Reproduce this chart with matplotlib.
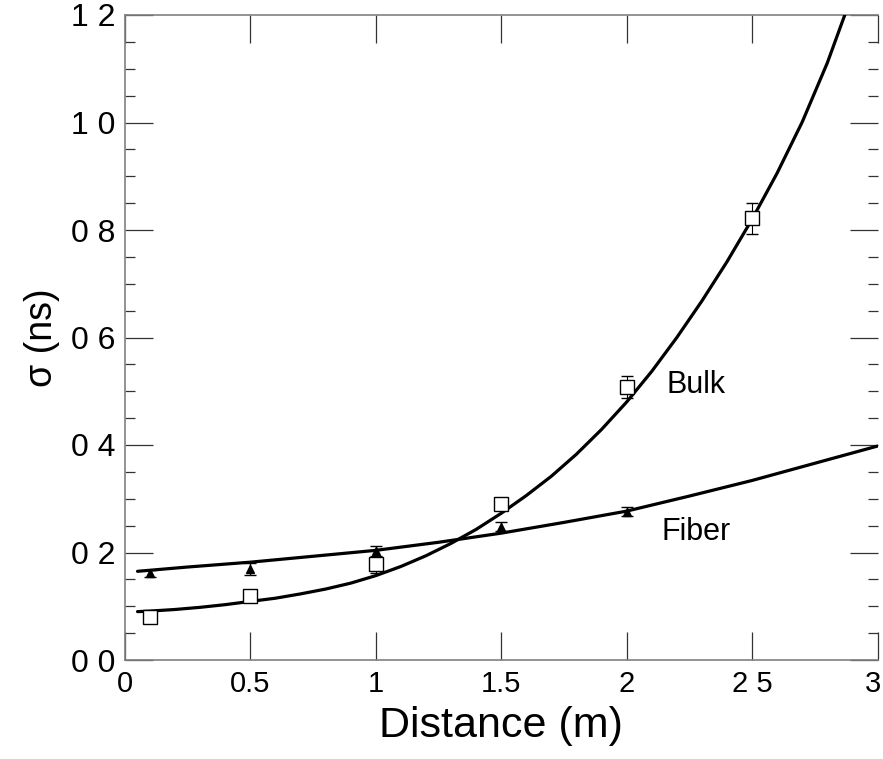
import matplotlib
matplotlib.use('Agg')
import matplotlib.pyplot as plt
import matplotlib.transforms as mtransforms
from matplotlib.ticker import MultipleLocator

# ---- data ----
bulk_x = [0.1, 0.5, 1.0, 1.5, 2.0, 2.5]
bulk_y = [0.080, 0.119, 0.178, 0.290, 0.508, 0.822]
bulk_err = [0.008, 0.010, 0.016, 0.010, 0.020, 0.029]

fiber_x = [0.1, 0.5, 1.0, 1.5, 2.0]
fiber_y = [0.161, 0.170, 0.202, 0.248, 0.276]
fiber_err = [0.006, 0.011, 0.010, 0.008, 0.009]

# fitted curves, points
bulk_fit_x = [0.05, 0.1, 0.2, 0.3, 0.4, 0.5, 0.6, 0.7, 0.8, 0.9, 1.0, 1.1, 1.2,
              1.3, 1.4, 1.5, 1.6, 1.7, 1.8, 1.9, 2.0, 2.1, 2.2, 2.3, 2.4, 2.5,
              2.6, 2.7, 2.8, 2.9]
bulk_fit_y = [0.090, 0.091, 0.094, 0.098, 0.103, 0.109, 0.115, 0.123, 0.132,
              0.143, 0.157, 0.174, 0.194, 0.217, 0.243, 0.273, 0.306, 0.342,
              0.383, 0.429, 0.480, 0.537, 0.600, 0.668, 0.741, 0.820, 0.906,
              1.001, 1.111, 1.239]

fiber_fit_x = [0.05, 0.25, 0.5, 0.75, 1.0, 1.25, 1.5, 1.75, 2.0, 2.25, 2.5,
               2.75, 3.0]
fiber_fit_y = [0.165, 0.173, 0.182, 0.193, 0.204, 0.219, 0.236, 0.256, 0.277,
               0.305, 0.334, 0.366, 0.398]

yticks = [0.0, 0.2, 0.4, 0.6, 0.8, 1.0, 1.2]
ytick_labels = ["0 0", "0 2", "0 4", "0 6", "0 8", "1 0", "1 2"]
xticks = [0, 0.5, 1, 1.5, 2, 2.5, 3]
xtick_labels = ["0", "0.5", "1", "1.5", "2", "2 5", "3"]

plt.rcParams['font.family'] = ['Liberation Sans', 'DejaVu Sans']

fig = plt.figure(figsize=(8.83, 7.59), dpi=100)
ax = fig.add_axes([125/883, 1-660/759, (877.5-125)/883, (660-15)/759])

ax.plot(bulk_fit_x, bulk_fit_y, color='black', lw=2.3, solid_capstyle='round',
        solid_joinstyle='round', zorder=3)
ax.plot(fiber_fit_x, fiber_fit_y, color='black', lw=2.3, solid_capstyle='round',
        solid_joinstyle='round', zorder=3)

ax.errorbar(bulk_x, bulk_y, yerr=bulk_err, fmt='s', mfc='white', mec='black',
            ms=10, mew=1.0, ecolor='black', elinewidth=0.8, capsize=4, capthick=0.8,
            zorder=4)
ax.errorbar(fiber_x, fiber_y, yerr=fiber_err, fmt='^', mfc='black', mec='black',
            ms=6, mew=1.0, ecolor='black', elinewidth=1.0, capsize=4, capthick=1.0,
            zorder=4)

ax.text(2.16, 0.512, "Bulk", fontsize=22, ha='left', va='center')
ax.text(2.138, 0.238, "Fiber", fontsize=22, ha='left', va='center')

ax.set_xlim(0, 3)
ax.set_ylim(0, 1.2)
ax.set_xticks(xticks)
ax.set_xticklabels(xtick_labels, fontsize=21)
ax.set_yticks(yticks)
ax.set_yticklabels(ytick_labels, fontsize=23)
ax.yaxis.set_minor_locator(MultipleLocator(0.05))

ax.tick_params(axis='both', which='major', direction='in', length=20, width=0.9,
               color='#333333', pad=7)
ax.tick_params(axis='y', which='minor', direction='in', length=7, width=0.9,
               color='#333333')
ax.tick_params(axis='x', top=True, labeltop=False)
ax.tick_params(axis='y', which='both', right=True, labelright=False)

# nudge the last x tick label so it stays inside the picture
last = ax.xaxis.get_major_ticks()[-1].label1
last.set_transform(last.get_transform() +
                   mtransforms.ScaledTranslation(-4/100, 0, fig.dpi_scale_trans))

for side in ['left', 'bottom', 'top']:
    ax.spines[side].set_color('#808080')
    ax.spines[side].set_linewidth(1.2)
ax.spines['right'].set_visible(False)

ax.set_xlabel("Distance (m)", fontsize=31, labelpad=6)
ax.set_ylabel("σ (ns)", fontsize=27, labelpad=8)

fig.savefig("out.png", dpi=100)
